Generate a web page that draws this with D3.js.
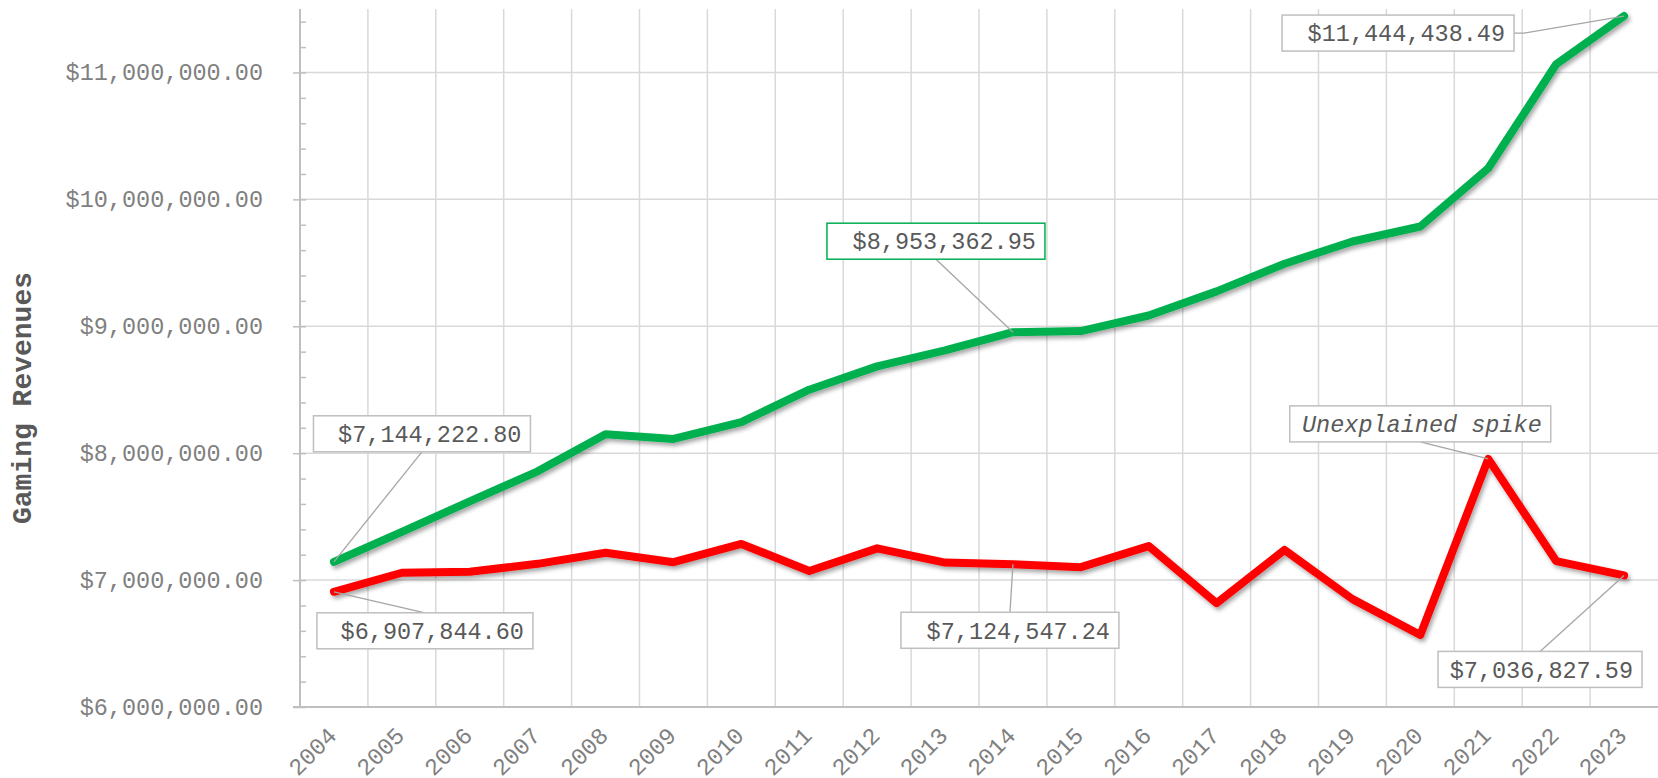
<!DOCTYPE html>
<html>
<head>
<meta charset="utf-8">
<script src="https://cdn.jsdelivr.net/npm/d3@7"></script>
<style>
  body { margin: 0; background: #fff; }
  svg { display: block; font-family: "Courier New", "Liberation Mono", monospace; }
</style>
</head>
<body>
<svg id="chart" width="1658" height="778"></svg>
<script>
var years = ['2004', '2005', '2006', '2007', '2008', '2009', '2010', '2011', '2012', '2013',
             '2014', '2015', '2016', '2017', '2018', '2019', '2020', '2021', '2022', '2023'];

// green series
var greenValues = [7144222.80, 7380000, 7620000, 7857000, 8150000, 8112000, 8245000, 8500000, 8684000, 8810000,
                   8953362.95, 8962000, 9085000, 9275000, 9493000, 9668000, 9786000, 10245000, 11065000, 11444438.49];
// red series
var redValues = [6907844.60, 7058000, 7066000, 7128000, 7216000, 7141000, 7285000, 7071000, 7250000, 7138000,
                 7124547.24, 7102000, 7268000, 6818000, 7238000, 6850000, 6568000, 7955000, 7150000, 7036827.59];

var yTicks = [6000000, 7000000, 8000000, 9000000, 10000000, 11000000];
var yTitle = 'Gaming Revenues';

var notes = [
  { series: 'green', year: '2004', text: '$7,144,222.80' },
  { series: 'red', year: '2004', text: '$6,907,844.60' },
  { series: 'green', year: '2014', text: '$8,953,362.95' },
  { series: 'red', year: '2014', text: '$7,124,547.24' },
  { series: 'red', year: '2021', text: 'Unexplained spike' },
  { series: 'red', year: '2023', text: '$7,036,827.59' },
  { series: 'green', year: '2023', text: '$11,444,438.49' }
];

// where each note box sits relative to its point (box centre offset, box width, leader side)
var noteLayout = [
  { dx: 88, dy: -128, w: 217, side: 'bottom' },
  { dx: 91, dy: 39, w: 216, side: 'top' },
  { dx: -77, dy: -91, w: 218, side: 'bottom', border: '#00b050' },
  { dx: -3, dy: 66, w: 218, side: 'top' },
  { dx: -68, dy: -35, w: 261, side: 'bottom', italic: true },
  { dx: -84, dy: 94, w: 204, side: 'top' },
  { dx: -226, dy: 17, w: 232, side: 'right' }
];

var plotL = 300, plotR = 1658, plotT = 9, plotB = 707;
var fontSize = 23.5;

var svg = d3.select('#chart');

var x = d3.scaleBand().domain(years).range([plotL, plotR]).padding(0);
var y = d3.scaleLinear().domain([6000000, 11500000]).range([plotB, plotT]);
var cx = function (yr) { return x(yr) + x.bandwidth() / 2; };

var defs = svg.append('defs');
var shadow = defs.append('filter').attr('id', 'shadow')
    .attr('x', '-5%').attr('y', '-20%').attr('width', '110%').attr('height', '140%');
shadow.append('feDropShadow')
    .attr('dx', 2).attr('dy', 3).attr('stdDeviation', 2.2)
    .attr('flood-color', '#000').attr('flood-opacity', 0.35);

// grid
var grid = svg.append('g');
grid.selectAll('line.h')
    .data(yTicks.slice(1))
    .enter()
    .append('line')
    .attr('class', 'h')
    .attr('x1', plotL).attr('x2', plotR)
    .attr('y1', function (d) { return y(d); })
    .attr('y2', function (d) { return y(d); })
    .attr('stroke', '#d9d9d9').attr('stroke-width', 1.5);

grid.selectAll('line.v')
    .data(years.slice(1))
    .enter()
    .append('line')
    .attr('class', 'v')
    .attr('x1', function (d) { return x(d); })
    .attr('x2', function (d) { return x(d); })
    .attr('y1', plotT).attr('y2', plotB)
    .attr('stroke', '#d9d9d9').attr('stroke-width', 1.5);

// y axis
var fmt = d3.format(',.2f');
var yAxis = svg.append('g')
    .attr('transform', 'translate(' + plotL + ',0)')
    .call(d3.axisLeft(y).tickValues(yTicks).tickSize(7).tickPadding(30)
        .tickFormat(function (d) { return '$' + fmt(d); }));
yAxis.select('.domain').remove();
yAxis.selectAll('line').attr('stroke', '#bfbfbf').attr('stroke-width', 1.5);
yAxis.selectAll('text')
    .attr('font-family', '"Courier New", "Liberation Mono", monospace')
    .attr('font-size', fontSize).attr('fill', '#808080');

var minor = d3.range(6000000, 11500001, 200000);
var yMinor = svg.append('g')
    .attr('transform', 'translate(' + plotL + ',0)')
    .call(d3.axisRight(y).tickValues(minor).tickSize(6).tickFormat(''));
yMinor.select('.domain').remove();
yMinor.selectAll('line').attr('stroke', '#bfbfbf').attr('stroke-width', 1.5);

svg.append('line')
    .attr('x1', plotL).attr('x2', plotL).attr('y1', plotT).attr('y2', plotB + 1)
    .attr('stroke', '#bfbfbf').attr('stroke-width', 2);

// x axis
svg.append('line')
    .attr('x1', plotL - 7).attr('x2', plotR).attr('y1', plotB).attr('y2', plotB)
    .attr('stroke', '#bfbfbf').attr('stroke-width', 2);

svg.append('g').selectAll('text')
    .data(years)
    .enter()
    .append('text')
    .attr('transform', function (d) { return 'translate(' + (cx(d) + 4) + ',' + (plotB + 30) + ') rotate(-45)'; })
    .attr('text-anchor', 'end')
    .attr('font-size', fontSize)
    .attr('fill', '#808080')
    .text(function (d) { return d; });

// y title
svg.append('text')
    .attr('transform', 'translate(31,' + ((plotT + plotB) / 2 + 40) + ') rotate(-90)')
    .attr('text-anchor', 'middle')
    .attr('font-size', 28)
    .attr('font-weight', 'bold')
    .attr('fill', '#595959')
    .text(yTitle);

// lines
var line = d3.line()
    .x(function (d) { return cx(d.year); })
    .y(function (d) { return y(d.value); });

var seriesList = [
  { name: 'green', color: '#00b050', values: greenValues },
  { name: 'red', color: '#ff0000', values: redValues }
];

svg.append('g').selectAll('path')
    .data(seriesList)
    .enter()
    .append('path')
    .attr('d', function (s) {
        return line(s.values.map(function (v, i) { return { year: years[i], value: v }; }));
    })
    .attr('fill', 'none')
    .attr('stroke', function (s) { return s.color; })
    .attr('stroke-width', 8)
    .attr('stroke-linejoin', 'round')
    .attr('stroke-linecap', 'round')
    .attr('filter', 'url(#shadow)');

// notes
var boxH = 36;
var noteG = svg.append('g');
notes.forEach(function (n, i) {
    var lay = noteLayout[i];
    var vals = n.series === 'green' ? greenValues : redValues;
    var px = cx(n.year);
    var py = y(vals[years.indexOf(n.year)]);
    var bx = px + lay.dx - lay.w / 2;
    var by = py + lay.dy - boxH / 2;

    var pts;
    if (lay.side === 'bottom') pts = [[px, py], [bx + lay.w / 2, by + boxH]];
    else if (lay.side === 'top') pts = [[px, py], [bx + lay.w / 2, by]];
    else pts = [[px, py], [bx + lay.w + 10, by + boxH / 2], [bx + lay.w, by + boxH / 2]];

    noteG.append('path')
        .attr('d', d3.line()(pts))
        .attr('fill', 'none')
        .attr('stroke', '#a6a6a6')
        .attr('stroke-width', 1.3);

    noteG.append('rect')
        .attr('x', bx).attr('y', by)
        .attr('width', lay.w).attr('height', boxH)
        .attr('fill', '#fff')
        .attr('stroke', lay.border || '#bfbfbf')
        .attr('stroke-width', 1.5);

    noteG.append('text')
        .attr('x', bx + lay.w - 9)
        .attr('y', by + boxH / 2)
        .attr('dy', '0.35em')
        .attr('text-anchor', 'end')
        .attr('font-size', fontSize)
        .attr('font-style', lay.italic ? 'italic' : 'normal')
        .attr('fill', '#595959')
        .text(n.text);
});
</script>
</body>
</html>
